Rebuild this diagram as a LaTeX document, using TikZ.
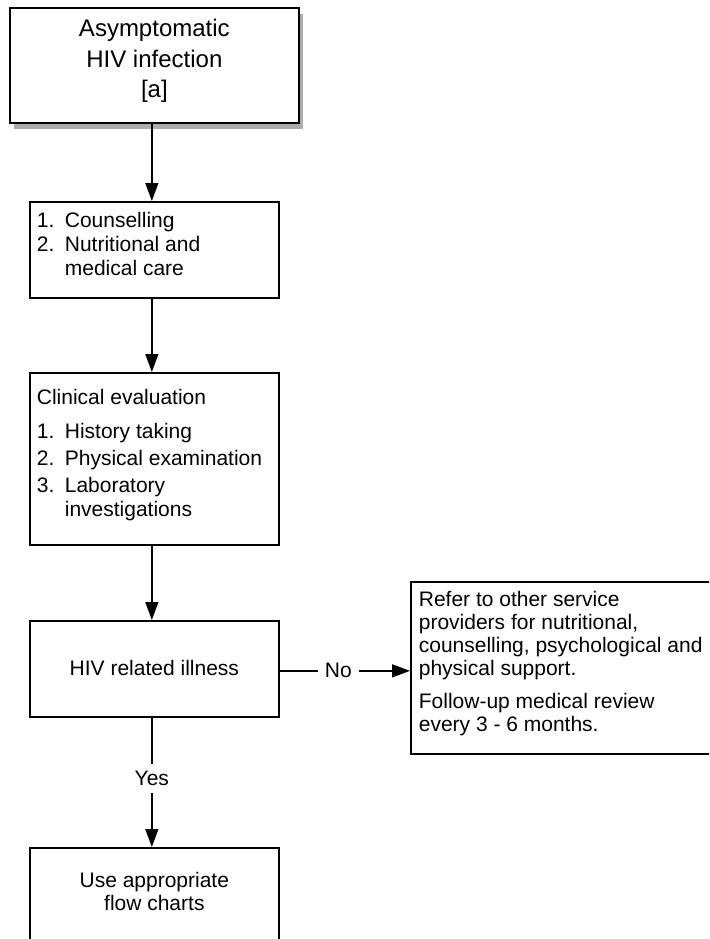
\documentclass[tikz,border=0pt]{standalone}
\usepackage{fontspec}
\setmainfont{Liberation Sans}
\usetikzlibrary{arrows.meta,shadows}
\begin{document}
\begin{tikzpicture}[x=1pt,y=-1pt,
  box/.style={draw, line width=1.7pt, fill=white, inner sep=0pt, anchor=north west},
  conn/.style={line width=1.4pt, -{Triangle[length=18pt,width=13pt]}},
  lbl/.style={fill=white, inner sep=7pt, font=\fontsize{21pt}{24pt}\selectfont}]
\path[use as bounding box] (0,0) rectangle (709,939);
\clip (0,0) rectangle (709,939);
\node[box, drop shadow={shadow xshift=4pt, shadow yshift=-6pt, fill=gray!65, opacity=1}] (start) at (9,7)
  {\parbox[c][115pt][t]{289pt}{\fontsize{24pt}{30.5pt}\selectfont\centering\vspace*{7.65pt}\strut Asymptomatic\\ HIV infection\\{[a]}}};
\node[box] (care) at (29,201)
  {\parbox[c][96pt][t]{249pt}{\fontsize{21pt}{24pt}\selectfont\raggedright\leftskip=7pt\vspace*{9.2pt}\strut\makebox[28pt][l]{1.}Counselling\\ \makebox[28pt][l]{2.}Nutritional and\\ \hspace*{28pt}medical care}};
\node[box] (eval) at (29,372)
  {\parbox[c][172pt][t]{249pt}{\fontsize{21pt}{24pt}\selectfont\raggedright\leftskip=7pt\vspace*{15.2pt}\strut Clinical evaluation\\[10pt] \makebox[28pt][l]{1.}History taking\\[3pt] \makebox[28pt][l]{2.}Physical examination\\[3pt] \makebox[28pt][l]{3.}Laboratory\\ \hspace*{28pt}investigations}};
\node[box] (ill) at (29,620)
  {\parbox[c][96pt][t]{249pt}{\fontsize{21pt}{24pt}\selectfont\centering\vspace*{38.2pt}\strut HIV related illness}};
\node[box] (flow) at (29,847)
  {\parbox[c][130pt][t]{249pt}{\fontsize{21pt}{23pt}\selectfont\centering\vspace*{23.9pt}\strut Use appropriate\\ flow charts}};
\node[box] (refer) at (410,581)
  {\parbox[c][172pt][t]{320pt}{\fontsize{21pt}{23pt}\selectfont\raggedright\leftskip=8pt\vspace*{8.9pt}\strut Refer to other service\\ providers for nutritional,\\ counselling, psychological and\\ physical support.\\[10pt] Follow-up medical review\\ every 3 - 6 months.}};
\draw[conn] ([xshift=-2.5pt]start.south) -- ([xshift=-2.5pt]care.north);
\draw[conn] ([xshift=-2.5pt]care.south) -- ([xshift=-2.5pt]eval.north);
\draw[conn] ([xshift=-2.5pt]eval.south) -- ([xshift=-2.5pt]ill.north);
\draw[conn] ([yshift=-2pt]ill.east) -- node[lbl, pos=0.45]{No} ([yshift=-2pt]ill.east -| refer.west);
\draw[conn] ([xshift=-2.5pt]ill.south) -- node[lbl, pos=0.47]{Yes} ([xshift=-2.5pt]flow.north);
\end{tikzpicture}
\end{document}
